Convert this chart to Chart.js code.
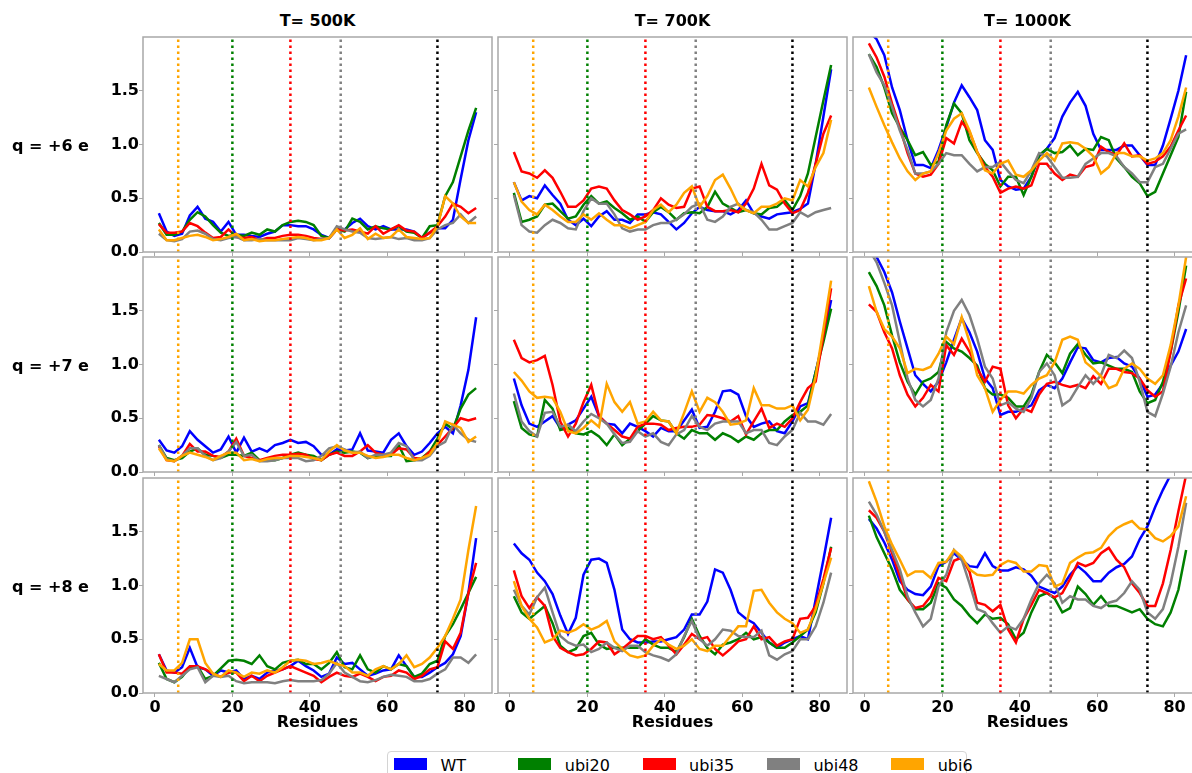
<!DOCTYPE html>
<html>
<head>
<meta charset="utf-8">
<script src="https://cdn.jsdelivr.net/npm/chart.js@4.4.0/dist/chart.umd.min.js"></script>
<style>
  html, body { margin: 0; padding: 0; width: 1192px; height: 773px; overflow: hidden; background: #fff; font-family: 'DejaVu Sans', sans-serif; }
  canvas { position: absolute; }
  .lbl { position: absolute; font-weight: bold; font-size: 16px; white-space: nowrap; color: #000; }
  #legend { position: absolute; left: 387px; top: 751px; width: 580px; height: 40px; border: 1px solid #d4d4d4; border-radius: 4px; box-sizing: border-box; }
  .sw { position: absolute; top: 6px; width: 33px; height: 12px; }
  .lt { position: absolute; top: 4px; font-size: 16px; line-height: 19px; }
</style>
</head>
<body>
<div id="legend"></div>
<script>
// residue numbers (every second residue)
const residues = [1,3,5,7,9,11,13,15,17,19,21,23,25,27,29,31,33,35,37,39,41,43,45,47,49,51,53,55,57,59,61,63,65,67,69,71,73,75,77,79,81,83];
const xTicks = [0, 20, 40, 60, 80];
const yTicks = [0, 0.5, 1.0, 1.5];
const temps = ['T= 500K', 'T= 700K', 'T= 1000K'];
const charges = ['q = +6 e', 'q = +7 e', 'q = +8 e'];
const seriesNames = ['WT', 'ubi20', 'ubi35', 'ubi48', 'ubi6'];
const seriesColors = ['blue', 'green', 'red', 'gray', 'orange'];
const markerSites = [6, 20, 35, 48, 73];
const markerColors = ['orange', 'green', 'red', 'gray', 'black'];

// q = +6 e
const wt_500_q6    = [.36,.19,.15,.17,.34,.42,.31,.28,.19,.28,.16,.16,.15,.14,.17,.19,.25,.25,.24,.24,.21,.16,.13,.21,.21,.27,.31,.24,.21,.24,.21,.21,.21,.19,.13,.18,.22,.22,.30,.68,1.04,1.30];
const ubi20_500_q6 = [.27,.16,.16,.19,.30,.37,.33,.25,.18,.15,.16,.15,.18,.16,.21,.19,.25,.28,.29,.28,.25,.15,.13,.21,.19,.31,.28,.21,.24,.22,.21,.24,.19,.18,.13,.24,.25,.52,.65,.89,1.13,1.34];
const ubi35_500_q6 = [.26,.18,.18,.19,.27,.24,.18,.13,.14,.21,.14,.13,.14,.11,.13,.13,.15,.16,.16,.15,.13,.12,.13,.21,.20,.21,.19,.17,.24,.17,.21,.25,.20,.19,.13,.18,.24,.33,.45,.42,.36,.41];
const ubi48_500_q6 = [.17,.11,.10,.12,.19,.20,.17,.12,.11,.13,.14,.11,.11,.12,.11,.11,.11,.11,.13,.12,.11,.12,.13,.24,.21,.19,.18,.13,.12,.13,.14,.12,.13,.11,.11,.13,.21,.25,.27,.35,.27,.33];
const ubi6_500_q6  = [.21,.11,.11,.13,.15,.16,.14,.11,.12,.14,.17,.11,.12,.10,.11,.11,.12,.13,.14,.13,.11,.11,.13,.21,.13,.16,.22,.12,.17,.13,.14,.21,.14,.13,.12,.13,.24,.52,.45,.33,.27,.27];

const wt_700_q6    = [.65,.48,.52,.50,.62,.53,.45,.30,.25,.31,.24,.33,.38,.30,.30,.27,.35,.35,.37,.35,.28,.21,.27,.36,.42,.39,.38,.38,.35,.39,.48,.36,.33,.31,.35,.36,.37,.40,.45,.82,1.26,1.70];
const ubi20_700_q6 = [.55,.28,.30,.33,.44,.45,.38,.31,.33,.44,.52,.45,.47,.41,.36,.30,.33,.28,.37,.42,.37,.30,.36,.37,.36,.42,.56,.45,.41,.37,.39,.36,.35,.41,.42,.48,.39,.52,.73,1.07,1.41,1.74];
const ubi35_700_q6 = [.93,.75,.73,.69,.76,.69,.56,.42,.42,.48,.59,.61,.59,.48,.39,.35,.30,.33,.39,.50,.44,.41,.42,.59,.61,.42,.38,.38,.39,.37,.45,.59,.82,.62,.58,.45,.36,.39,.55,.82,1.10,1.27];
const ubi48_700_q6 = [.53,.25,.19,.18,.25,.30,.27,.22,.21,.38,.50,.45,.45,.35,.22,.19,.21,.21,.25,.27,.27,.30,.35,.42,.45,.30,.28,.33,.42,.45,.39,.37,.30,.21,.21,.24,.27,.37,.33,.37,.39,.41];
const ubi6_700_q6  = [.65,.47,.39,.35,.44,.39,.33,.28,.28,.35,.30,.36,.30,.25,.25,.22,.25,.28,.39,.44,.37,.44,.55,.61,.42,.52,.67,.72,.59,.44,.39,.36,.42,.42,.45,.50,.48,.67,.61,.79,.92,1.23];

const wt_1000_q6    = [2.05,1.98,1.83,1.53,1.32,1.04,.81,.81,.78,.95,1.16,1.39,1.55,1.44,1.32,1.04,.95,.67,.61,.58,.59,.70,.89,.96,1.06,1.26,1.39,1.49,1.36,1.10,.95,.95,.95,.99,.99,.90,.81,.81,.99,1.24,1.50,1.83];
const ubi20_1000_q6 = [1.84,1.72,1.53,1.29,1.16,1.04,.90,.93,.81,.84,1.18,1.38,1.29,1.04,.92,.82,.76,.61,.70,.70,.53,.70,.90,.96,.92,.93,.99,.90,.96,.95,1.07,1.04,.87,.79,.70,.64,.52,.56,.73,.90,1.07,1.49];
const ubi35_1000_q6 = [1.94,1.81,1.63,1.38,1.16,.92,.73,.70,.72,.82,1.06,1.01,1.21,1.12,.93,.79,.70,.55,.59,.61,.59,.62,.82,.82,.73,.67,.72,.70,.79,.81,.98,.93,.90,1.01,.89,.90,.82,.84,.89,.98,1.13,1.27];
const ubi48_1000_q6 = [1.84,1.67,1.55,1.35,1.13,.95,.73,.73,.75,.82,.92,.90,.90,.82,.75,.79,.79,.84,.75,.67,.64,.76,.92,.89,.79,.69,.69,.70,.82,.87,.92,.92,.89,.79,.73,.65,.65,.79,.82,.96,1.10,1.14];
const ubi6_1000_q6  = [1.53,1.35,1.18,1.02,.87,.75,.67,.73,.75,.92,1.13,1.24,1.29,1.13,.93,.76,.73,.82,.85,.72,.70,.76,.85,.92,.85,1.01,1.02,1.01,.96,.89,.73,.79,.92,.92,.89,.89,.85,.87,.92,1.04,1.26,1.53];

// q = +7 e
const wt_500_q7    = [.30,.20,.18,.24,.38,.30,.24,.18,.21,.33,.18,.32,.19,.22,.19,.25,.27,.30,.27,.28,.24,.16,.16,.21,.20,.21,.36,.20,.19,.18,.30,.36,.24,.16,.19,.27,.36,.42,.36,.62,.95,1.44];
const ubi20_500_q7 = [.25,.13,.11,.13,.19,.22,.16,.15,.13,.16,.16,.15,.18,.11,.11,.11,.13,.16,.18,.16,.15,.11,.16,.19,.18,.19,.18,.13,.15,.15,.15,.25,.10,.11,.13,.19,.31,.45,.40,.59,.72,.78];
const ubi35_500_q7 = [.24,.11,.10,.15,.26,.19,.19,.15,.14,.19,.31,.15,.13,.11,.13,.15,.16,.16,.17,.16,.12,.11,.16,.18,.15,.15,.19,.25,.18,.16,.16,.22,.21,.13,.12,.19,.25,.33,.41,.50,.48,.50];
const ubi48_500_q7 = [.25,.12,.10,.15,.22,.22,.15,.11,.13,.19,.28,.15,.16,.10,.10,.11,.13,.13,.13,.10,.11,.15,.22,.24,.21,.18,.19,.13,.16,.16,.18,.27,.24,.11,.11,.15,.24,.28,.44,.36,.30,.28];
const ubi6_500_q7  = [.22,.11,.10,.15,.18,.16,.14,.11,.15,.18,.18,.11,.12,.10,.12,.13,.13,.15,.15,.14,.13,.11,.19,.25,.20,.18,.18,.15,.13,.14,.16,.16,.13,.11,.13,.16,.27,.47,.44,.41,.28,.33];

const wt_700_q7    = [.87,.62,.45,.42,.47,.52,.41,.44,.48,.59,.70,.52,.45,.44,.36,.45,.42,.38,.33,.41,.38,.38,.48,.58,.41,.42,.56,.75,.76,.72,.52,.42,.45,.47,.38,.36,.47,.61,.64,.93,1.24,1.60];
const ubi20_700_q7 = [.66,.41,.35,.33,.67,.59,.39,.41,.36,.35,.38,.33,.25,.35,.25,.31,.38,.45,.52,.48,.47,.36,.31,.39,.36,.36,.30,.36,.33,.28,.33,.30,.36,.39,.39,.47,.53,.56,.62,.93,1.21,1.52];
const ubi35_700_q7 = [1.23,1.06,1.02,1.04,1.08,.81,.47,.33,.45,.65,.81,.52,.45,.39,.33,.31,.42,.45,.45,.44,.39,.41,.42,.42,.44,.53,.52,.50,.47,.52,.35,.47,.59,.41,.45,.42,.50,.65,.78,.84,1.27,1.71];
const ubi48_700_q7 = [.73,.47,.38,.33,.55,.56,.42,.44,.38,.47,.54,.50,.45,.35,.27,.28,.38,.33,.36,.28,.25,.35,.39,.52,.42,.39,.45,.47,.47,.47,.36,.39,.39,.27,.25,.33,.39,.55,.47,.47,.44,.54];
const ubi6_700_q7  = [.93,.85,.75,.69,.70,.69,.56,.38,.36,.41,.48,.42,.82,.65,.56,.65,.45,.47,.56,.48,.47,.36,.55,.75,.56,.69,.65,.56,.44,.45,.48,.78,.62,.62,.59,.59,.62,.48,.58,.89,1.33,1.78];

const wt_1000_q7    = [2.10,2.00,1.86,1.67,1.40,1.15,.90,.82,.75,.84,1.02,1.23,1.43,1.30,1.12,.87,.78,.53,.56,.56,.59,.62,.76,.81,.78,.87,1.02,1.16,1.15,1.04,1.02,1.06,1.07,1.01,.98,.87,.70,.72,.82,.99,1.12,1.33];
const ubi20_1000_q7 = [1.86,1.73,1.55,1.27,1.02,.84,.72,.84,.87,.93,1.21,1.15,1.12,1.06,.99,.78,.72,.72,.69,.61,.61,.72,.93,1.09,1.02,.92,1.10,1.19,1.09,1.01,1.02,.99,.96,.96,.93,.75,.64,.67,.84,1.12,1.49,1.92];
const ubi35_1000_q7 = [1.56,1.49,1.30,1.15,.90,.72,.61,.69,.81,.75,1.18,1.09,1.24,1.12,.96,.84,.98,.96,.62,.50,.59,.56,.72,.82,.84,.81,.79,.81,.78,.89,.82,.96,.96,.93,.92,.87,.76,.70,.75,1.12,1.55,1.80];
const ubi48_1000_q7 = [2.07,1.95,1.76,1.55,1.21,.87,.67,.61,.67,.87,1.30,1.50,1.60,1.46,1.24,.98,.87,.62,.65,.59,.56,.69,.93,1.01,.90,.62,.67,.79,.90,.82,.90,1.09,1.06,1.13,1.06,.84,.56,.52,.73,.98,1.30,1.55];
const ubi6_1000_q7  = [1.73,1.49,1.33,1.26,1.15,.92,.96,.95,.98,1.10,1.26,1.19,1.44,1.21,.90,.78,.56,.67,.75,.75,.73,.81,.87,.90,1.02,1.23,1.26,1.23,1.02,.96,.89,.78,.81,.96,1.01,.96,.87,.82,.90,1.18,1.55,2.00];

// q = +8 e
const wt_500_q8    = [.36,.21,.19,.24,.42,.24,.22,.16,.21,.19,.21,.13,.16,.13,.19,.21,.22,.25,.30,.25,.21,.15,.18,.33,.27,.28,.22,.16,.18,.21,.22,.35,.25,.15,.15,.19,.24,.28,.36,.53,.93,1.44];
const ubi20_500_q8 = [.28,.13,.10,.15,.24,.25,.13,.16,.23,.30,.31,.30,.27,.35,.25,.22,.28,.30,.31,.27,.27,.22,.28,.38,.24,.22,.35,.22,.19,.25,.22,.27,.25,.15,.18,.27,.30,.53,.64,.78,.93,1.08];
const ubi35_500_q8 = [.36,.19,.19,.18,.25,.25,.22,.18,.15,.19,.19,.11,.16,.11,.16,.19,.22,.25,.22,.19,.16,.10,.15,.19,.16,.15,.18,.15,.11,.15,.16,.21,.19,.13,.16,.22,.24,.48,.41,.56,.93,1.21];
const ubi48_500_q8 = [.16,.13,.10,.16,.22,.24,.10,.16,.15,.16,.11,.09,.10,.10,.10,.09,.11,.12,.11,.11,.11,.12,.18,.28,.19,.15,.11,.10,.12,.15,.17,.16,.15,.11,.11,.13,.18,.22,.33,.33,.28,.36];
const ubi6_500_q8  = [.27,.21,.21,.28,.50,.50,.28,.18,.15,.21,.19,.15,.19,.18,.21,.19,.24,.30,.31,.30,.27,.28,.30,.27,.25,.19,.19,.16,.22,.25,.22,.27,.35,.24,.27,.33,.42,.53,.69,.87,1.33,1.74];

const wt_700_q8    = [1.39,1.30,1.24,1.12,1.04,.92,.72,.55,.70,1.10,1.24,1.25,1.21,.96,.59,.50,.47,.47,.48,.48,.50,.52,.59,.73,.73,.85,1.15,1.12,.96,.75,.69,.65,.56,.47,.42,.47,.50,.53,.50,.87,1.24,1.63];
const ubi20_700_q8 = [.90,.75,.69,.75,.81,.65,.44,.38,.41,.53,.56,.45,.41,.42,.42,.42,.42,.50,.45,.42,.42,.38,.52,.69,.53,.42,.36,.45,.47,.50,.56,.50,.52,.47,.42,.42,.47,.53,.59,.75,1.02,1.36];
const ubi35_700_q8 = [1.14,.90,.79,.89,.81,.53,.42,.38,.35,.36,.41,.48,.47,.36,.41,.47,.53,.53,.50,.52,.44,.36,.45,.55,.50,.52,.41,.35,.41,.48,.50,.62,.50,.52,.44,.48,.50,.69,.70,.81,1.06,1.35];
const ubi48_700_q8 = [.96,.81,.73,.89,.98,.75,.53,.47,.44,.45,.38,.41,.47,.42,.39,.44,.44,.38,.35,.33,.30,.36,.53,.67,.50,.44,.50,.59,.58,.53,.52,.52,.58,.35,.31,.36,.39,.50,.50,.62,.84,1.12];
const ubi6_700_q8  = [1.04,.81,.69,.61,.47,.50,.58,.56,.59,.64,.59,.62,.67,.48,.41,.35,.33,.35,.44,.50,.45,.41,.44,.50,.41,.39,.44,.44,.53,.62,.62,.95,.96,.84,.75,.69,.65,.56,.59,.78,1.02,1.26];

const wt_1000_q8    = [1.62,1.53,1.40,1.24,1.04,.96,.92,.91,.99,1.18,1.22,1.30,1.24,1.18,1.17,1.30,1.18,1.14,1.14,1.17,1.15,1.09,.99,.96,.93,.99,1.10,1.18,1.12,1.04,1.04,1.12,1.17,1.20,1.27,1.43,1.55,1.73,1.89,2.03,2.12,2.20];
const ubi20_1000_q8 = [1.65,1.45,1.30,1.15,.96,.87,.78,.78,.84,1.02,.98,.87,.81,.72,.65,.73,.69,.70,.64,.50,.56,.75,.90,.93,.88,.75,.79,.99,.92,.82,.90,.81,.81,.78,.75,.78,.69,.64,.62,.75,.96,1.33];
const ubi35_1000_q8 = [1.70,1.63,1.50,1.30,1.09,.87,.79,.81,.90,1.07,1.04,1.23,1.26,1.13,.84,.82,.76,.82,.59,.47,.69,.82,.96,.93,.89,.93,1.06,1.21,1.18,1.21,1.30,1.35,1.24,1.17,1.02,.93,.81,.81,1.02,1.33,1.69,2.03];
const ubi48_1000_q8 = [1.78,1.66,1.50,1.33,1.15,.90,.75,.62,.69,.99,1.10,1.33,1.24,1.02,.78,.75,.65,.56,.62,.59,.69,.87,1.02,1.10,1.02,.84,.90,.87,.87,.81,.79,.84,.86,.93,1.04,.96,.75,.69,.78,1.02,1.36,1.77];
const ubi6_1000_q8  = [1.97,1.78,1.55,1.38,1.24,1.09,1.13,1.13,1.07,1.21,1.22,1.33,1.27,1.15,1.10,1.09,1.10,1.19,1.23,1.21,1.13,1.13,1.19,1.18,.99,1.02,1.21,1.26,1.30,1.31,1.35,1.46,1.53,1.57,1.60,1.53,1.52,1.44,1.41,1.46,1.55,1.83];

const panelData = [
  [[wt_500_q6, ubi20_500_q6, ubi35_500_q6, ubi48_500_q6, ubi6_500_q6],
   [wt_700_q6, ubi20_700_q6, ubi35_700_q6, ubi48_700_q6, ubi6_700_q6],
   [wt_1000_q6, ubi20_1000_q6, ubi35_1000_q6, ubi48_1000_q6, ubi6_1000_q6]],
  [[wt_500_q7, ubi20_500_q7, ubi35_500_q7, ubi48_500_q7, ubi6_500_q7],
   [wt_700_q7, ubi20_700_q7, ubi35_700_q7, ubi48_700_q7, ubi6_700_q7],
   [wt_1000_q7, ubi20_1000_q7, ubi35_1000_q7, ubi48_1000_q7, ubi6_1000_q7]],
  [[wt_500_q8, ubi20_500_q8, ubi35_500_q8, ubi48_500_q8, ubi6_500_q8],
   [wt_700_q8, ubi20_700_q8, ubi35_700_q8, ubi48_700_q8, ubi6_700_q8],
   [wt_1000_q8, ubi20_1000_q8, ubi35_1000_q8, ubi48_1000_q8, ubi6_1000_q8]]
];

// layout of the 3x3 grid
const plotLeft = [143, 498, 853];
const plotTop = [37, 257, 478];
const plotW = 349, plotH = 215;
const yMax = 2.0;

Chart.defaults.font.family = "'DejaVu Sans', sans-serif";
Chart.defaults.color = '#000';

// matplotlib-like frame round the axes
const frame = {
  id: 'frame',
  afterDraw(chart) {
    const { ctx, chartArea: a } = chart;
    ctx.save();
    ctx.strokeStyle = '#a8a8a8';
    ctx.lineWidth = 1.5;
    ctx.strokeRect(a.left, a.top, a.right - a.left, a.bottom - a.top);
    ctx.restore();
  }
};

function addText(text, x, y, center) {
  const d = document.createElement('div');
  d.className = 'lbl';
  d.textContent = text;
  d.style.left = x + 'px';
  d.style.top = y + 'px';
  d.style.transform = center ? 'translate(-50%,-50%)' : 'translate(0,-50%)';
  document.body.appendChild(d);
}

function makePanel(r, c) {
  const mL = c === 0 ? 60 : 6, mT = 3, mR = 3, mB = r === 2 ? 26 : 12;
  const cv = document.createElement('canvas');
  cv.width = mL + plotW + mR;
  cv.height = mT + plotH + mB;
  cv.style.left = (plotLeft[c] - mL) + 'px';
  cv.style.top = (plotTop[r] - mT) + 'px';
  document.body.appendChild(cv);

  const lines = panelData[r][c].map((vals, k) => ({
    label: seriesNames[k],
    data: residues.map((x, i) => ({ x: x, y: vals[i] })),
    borderColor: seriesColors[k],
    borderWidth: 2.5,
    pointRadius: 0,
    tension: 0,
    clip: 0,
    order: 10 - k
  }));
  const markers = markerSites.map((s, k) => ({
    data: [{ x: s, y: 0 }, { x: s, y: yMax }],
    borderColor: markerColors[k],
    borderWidth: 2.5,
    borderDash: [2.5, 3.5],
    pointRadius: 0,
    clip: 0,
    order: 0
  }));

  const gridOpts = { drawOnChartArea: false, drawTicks: true, tickLength: 4, color: '#a8a8a8' };

  new Chart(cv, {
    type: 'line',
    data: { datasets: lines.concat(markers) },
    plugins: [frame],
    options: {
      responsive: false,
      animation: false,
      devicePixelRatio: 1,
      layout: { padding: { top: mT, right: mR, left: 0, bottom: 0 } },
      plugins: { legend: { display: false }, tooltip: { enabled: false } },
      scales: {
        x: {
          type: 'linear',
          min: -3.1,
          max: 87.1,
          afterBuildTicks: s => { s.ticks = xTicks.map(v => ({ value: v })); },
          afterFit: s => { s.height = mB; s.paddingLeft = 0; s.paddingRight = 0; },
          ticks: { display: r === 2, padding: 1, font: { size: 16, weight: 'bold' }, callback: v => String(v), maxRotation: 0 },
          grid: gridOpts,
          border: { display: false }
        },
        y: {
          min: 0,
          max: yMax,
          afterBuildTicks: s => { s.ticks = yTicks.map(v => ({ value: v })); },
          afterFit: s => { s.width = mL; s.paddingTop = 0; s.paddingBottom = 0; },
          ticks: { display: c === 0, padding: 0, font: { size: 16, weight: 'bold' }, callback: v => v.toFixed(1) },
          grid: gridOpts,
          border: { display: false }
        }
      }
    }
  });
}

for (let r = 0; r < 3; r++) {
  for (let c = 0; c < 3; c++) makePanel(r, c);
}

temps.forEach((t, c) => addText(t, plotLeft[c] + plotW / 2, 20, true));
charges.forEach((q, r) => addText(q, 12, plotTop[r] + plotH / 2, false));
plotLeft.forEach(l => addText('Residues', l + plotW / 2, 721, true));

// legend
const legend = document.getElementById('legend');
seriesNames.forEach((name, k) => {
  const sw = document.createElement('div');
  sw.className = 'sw';
  sw.style.left = (6 + 124.3 * k) + 'px';
  sw.style.background = seriesColors[k];
  legend.appendChild(sw);
  const t = document.createElement('div');
  t.className = 'lt';
  t.style.left = (52.5 + 124.3 * k) + 'px';
  t.textContent = name;
  legend.appendChild(t);
});
</script>
</body>
</html>
